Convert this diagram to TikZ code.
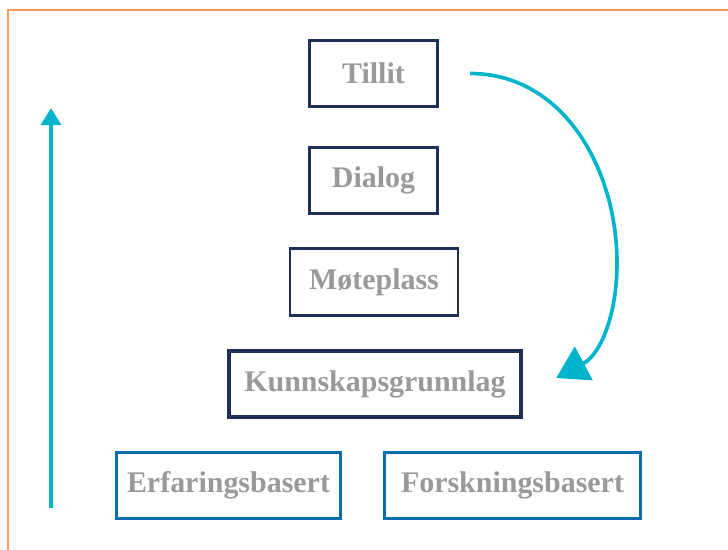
\documentclass[tikz,border=0pt]{standalone}
\usepackage{fontspec}
\setmainfont{Liberation Serif}
\usetikzlibrary{arrows.meta}

\definecolor{frameorange}{HTML}{F79C5C}
\definecolor{navy}{HTML}{1E2F58}
\definecolor{basisblue}{HTML}{0A6DAD}
\definecolor{flowcyan}{HTML}{00B5CB}
\definecolor{labelgray}{HTML}{999999}

\tikzset{
  level/.style={draw=navy, line width=1.9pt, minimum height=1.66cm, inner sep=0pt,
    text=labelgray, font=\fontsize{21.3}{24}\selectfont\bfseries},
  basis/.style={level, draw=basisblue, line width=2.4pt},
  flow/.style={flowcyan, line width=2.6pt}
}

\begin{document}
\begin{tikzpicture}[x=0.025cm, y=-0.025cm]
    \useasboundingbox (0,0) rectangle (728,550);
    \draw [frameorange, line width=1.8pt] (8,550) -- (8,10) -- (728,10);

    \node [level, minimum width=3.2cm] (tillit) at (373.5,73.5) {Tillit};
    \node [level, minimum width=3.2cm] (dialog) at (373.5,180.5) {Dialog};
    \node [level, minimum width=4.2cm] (moteplass) at (374,282) {Møteplass};
    \node [level, line width=2.8pt, minimum width=7.3cm] (kunnskap) at (375,384) {Kunnskapsgrunnlag};
    \node [basis, minimum width=5.6cm] (erfaring) at (228.5,485.5) {Erfaringsbasert};
    \node [basis, minimum width=6.4cm] (forskning) at (512.5,485.5) {Forskningsbasert};

    \coordinate (rise bottom) at (51,508);
    \coordinate (rise top) at (51,108);
    \coordinate (bend) at (617,263);
    \draw [flow, -{Triangle[length=0.43cm, width=0.5cm]}] (rise bottom) -- (rise top);
    \draw [flow, -{Triangle[length=0.78cm, width=0.94cm]}] ([xshift=0.78cm]tillit.east)
      to [out=0, in=90] (bend)
      to [out=-90, in=28] ([xshift=0.83cm, yshift=0.15cm]kunnskap.east);
\end{tikzpicture}
\end{document}
